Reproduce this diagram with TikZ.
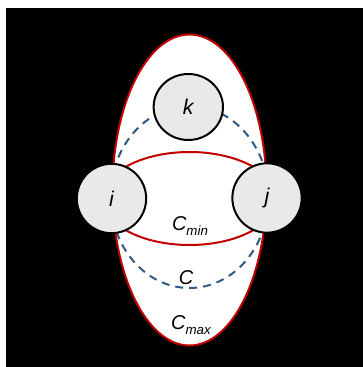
\documentclass[tikz,border=0pt]{standalone}
\usepackage{fontspec}
\setmainfont{Liberation Sans}
\usetikzlibrary{shapes.geometric}
\definecolor{bordred}{HTML}{C00000}
\definecolor{pathblue}{HTML}{2F5A84}
\definecolor{nodegray}{HTML}{E9E9E9}
\begin{document}
\begin{tikzpicture}[x=0.75pt,y=-0.75pt,
  vertex/.style={circle,draw=black,line width=1.5pt,fill=nodegray,
    minimum size=52pt,inner sep=0pt,font=\fontsize{16}{16}\selectfont\itshape},
  redring/.style={draw=bordred,line width=1.5pt},
  bluering/.style={draw=pathblue,line width=1.5pt,dash pattern=on 6pt off 4.5pt},
  tag/.style={inner sep=0pt,anchor=base,font=\fontsize{15}{15}\selectfont\itshape}]
  \useasboundingbox (0,0) rectangle (363,367);
  \fill[white] (0,0) rectangle (363,367);
  \fill[black] (6,8) rectangle (363,367);
  % outer bound C_max
  \filldraw[redring,fill=white] (189.5,190) ellipse [x radius=77, y radius=155.5];
  % cycle C through k
  \draw[bluering] (189.5,197) ellipse [x radius=79, y radius=91];
  % lower bound C_min
  \draw[redring] (189.5,198.5) ellipse [x radius=87, y radius=46.5];
  % vertices
  \node[vertex] (i) at (111.5,198.5) {i};
  \node[vertex] (j) at (267,198) {j};
  \node[vertex,ellipse,minimum width=52pt,minimum height=49.5pt] (k) at (188.3,107) {k};
  % labels
  \newcommand{\subtag}[1]{\raisebox{-0.5ex}{\fontsize{10}{10}\selectfont\itshape #1}}
  \node[tag] (cmin) at (190,230.7) {C\subtag{min}};
  \node[tag] (cmid) at (186,284) {C};
  \node[tag] (cmax) at (191,329.3) {C\subtag{max}};
\end{tikzpicture}
\end{document}
